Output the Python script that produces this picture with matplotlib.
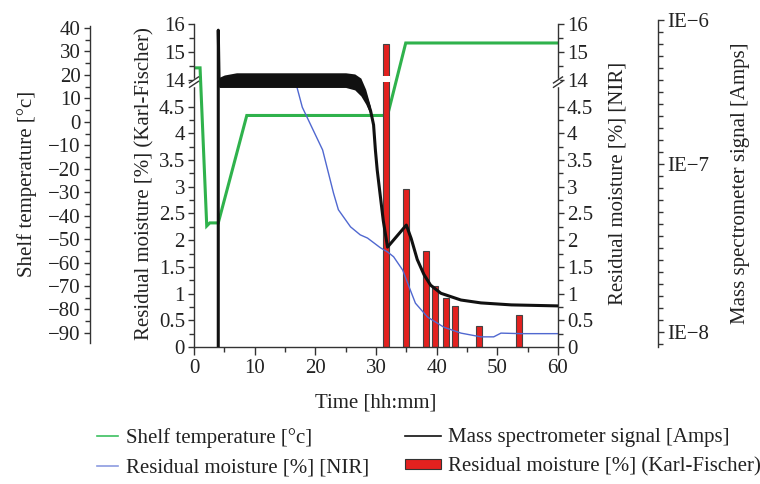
"""Freeze-drying run: shelf temperature, NIR / Karl-Fischer moisture and mass spec signal."""

import numpy as np
import matplotlib
matplotlib.use("Agg")
import matplotlib.pyplot as plt
from matplotlib.lines import Line2D
from matplotlib.patches import Patch

plt.rcParams["font.family"] = ["Liberation Serif", "DejaVu Serif"]

# --- data (time in minutes) ---
temp_time = [0, 1.0, 2.1, 2.6, 4.0, 8.7, 31.9, 34.9, 60]
temp_vals = [23.0, 23.0, -44.4, -43.1, -43.1, 2.7, 2.7, 33.6, 33.6]

nir_time = [16.9, 17.85, 21.2, 23.0, 23.8, 25.8, 27.4, 28.6, 30.7, 31.9, 32.9,
            34.4, 35.2, 36.5, 38.5, 41.2, 44.0, 47.3, 49.4, 50.6, 53.9, 60]
nir_vals = [12.0, 4.49, 3.69, 2.88, 2.57, 2.25, 2.1, 2.04, 1.86, 1.78, 1.69,
            1.44, 1.2, 0.82, 0.56, 0.37, 0.26, 0.19, 0.19, 0.26, 0.25, 0.25]

kf_time = [31.6, 35.0, 38.2, 39.7, 41.5, 43.0, 47.0, 53.5]
kf_vals = [15.3, 2.95, 1.8, 1.15, 0.92, 0.77, 0.4, 0.6]

mass_time = [4.0, 4.0, 4.15, 5.0, 10.0, 25.0, 26.5, 27.5, 28.3, 29.1, 29.6, 29.9,
             30.2, 30.7, 31.2, 31.9, 35.0, 35.8, 36.8, 37.9, 39.0, 40.7, 44.0,
             47.3, 52.3, 60.0]
mass_vals = [1e-9, 8.5e-7, 3.5e-7, 3.8e-7, 3.8e-7, 3.8e-7, 3.7e-7, 3.4e-7, 2.95e-7,
             2.35e-7, 1.87e-7, 1.25e-7, 9.2e-8, 6.5e-8, 4.6e-8, 3.2e-8, 4.33e-8,
             3.6e-8, 2.7e-8, 2.2e-8, 1.9e-8, 1.7e-8, 1.55e-8, 1.49e-8, 1.45e-8,
             1.43e-8]
# noisy plateau of the mass signal (envelope)
band_time = [4.15, 5.0, 7.0, 25.0, 26.5, 27.5, 28.3, 29.1]
band_lo = [3.4e-7, 3.4e-7, 3.4e-7, 3.4e-7, 3.27e-7, 2.97e-7, 2.61e-7, 2.2e-7]
band_hi = [4.0e-7, 4.15e-7, 4.3e-7, 4.3e-7, 4.22e-7, 3.95e-7, 3.3e-7, 2.5e-7]

moist_major = [0, 0.5, 1, 1.5, 2, 2.5, 3, 3.5, 4, 4.5, 14, 15, 16]
moist_labels = ["0", "0.5", "1", "1.5", "2", "2.5", "3", "3.5", "4", "4.5", "14", "15", "16"]
moist_minor = [0.25, 0.75, 1.25, 1.75, 2.25, 2.75, 3.25, 3.75, 4.25, 14.5, 15.5]
mass_major = [1e-8, 1e-7, 1e-6]
mass_labels = ["IE\u22128", "IE\u22127", "IE\u22126"]

GREEN = "#2fb24c"
BLUE = "#5068d0"
RED = "#e3211f"
TXT = "#222222"
SPN = "#333333"
FS = 15


def moist_fwd(y):
    """Broken moisture axis: 0-4.5 full scale, 14-16 compressed above the break."""
    y = np.asarray(y, dtype=float)
    return np.where(y <= 4.5, y,
                    np.where(y < 14, 4.5 + (y - 4.5) * 0.5 / 9.5, 5.0 + (y - 14) * 0.52))


def moist_inv(u):
    u = np.asarray(u, dtype=float)
    return np.where(u <= 4.5, u,
                    np.where(u < 5.0, 4.5 + (u - 4.5) * 9.5 / 0.5, 14 + (u - 5.0) / 0.52))


def mass_fwd(v):
    """Decades of uneven length, as on the instrument's printed axis."""
    lv = np.log10(np.maximum(np.asarray(v, dtype=float), 1e-30))
    return np.where(lv <= -7, (lv + 8) * 14, 14 + (lv + 7) * 12)


def mass_inv(u):
    u = np.asarray(u, dtype=float)
    return np.where(u <= 14, 10 ** (u / 14 - 8), 10 ** ((u - 14) / 12 - 7))


fig = plt.figure(figsize=(7.6, 4.84), dpi=100)
ax = fig.add_axes([194 / 760, 1 - 347 / 484, 364 / 760, 327 / 484])
ax_t = ax.twinx()
ax_nir = ax.twinx()
ax_m = ax.twinx()

ax_t.set_zorder(1)
ax.set_zorder(2)
ax_nir.set_zorder(3)
ax_m.set_zorder(4)
ax.patch.set_visible(False)

for a in (ax, ax_t, ax_nir, ax_m):
    for s in a.spines.values():
        s.set_visible(False)
        s.set_color(SPN)
        s.set_linewidth(1.0)
    a.tick_params(which="both", direction="out", colors=SPN, labelcolor=TXT,
                  labelsize=FS, width=1.0, pad=2.5)
    a.tick_params(which="major", length=4)
    a.tick_params(which="minor", length=3.5)

# main axis: Karl-Fischer bars, left moisture scale, time axis
ax.set_yscale("function", functions=(moist_fwd, moist_inv))
ax.set_xlim(0, 60)
ax.set_ylim(0, 16.16)
ax.bar(kf_time, kf_vals, width=1.0, color=RED, edgecolor="#444444", linewidth=0.8)
# gap in the tall bar where the axis is broken
tall = [t for t, v in zip(kf_time, kf_vals) if v > 14]
ax.bar(tall, [14.15 - 13.3] * len(tall), bottom=13.3, width=1.4, color="white", linewidth=0)
ax.spines["left"].set_visible(True)
ax.spines["left"].set_bounds(0, 16)
ax.spines["bottom"].set_visible(True)
ax.set_yticks(moist_major)
ax.set_yticklabels(moist_labels)
ax.set_yticks(moist_minor, minor=True)
ax.set_xticks(range(0, 61, 10))
ax.set_xticks(range(5, 60, 10), minor=True)
ax.tick_params(axis="x", which="major", length=6)
ax.set_xlabel("Time [hh:mm]", fontsize=FS, color=TXT, labelpad=11)
ax.set_ylabel("Residual moisture [%] (Karl-Fischer)", fontsize=FS, color=TXT, labelpad=3)

# shelf temperature on its own outer left axis
ax_t.plot(temp_time, temp_vals, color=GREEN, lw=2.2, solid_joinstyle="miter")
ax_t.set_ylim(-96.0, 43.4)
ax_t.spines["left"].set_visible(True)
ax_t.spines["left"].set_position(("outward", 75))
ax_t.spines["left"].set_bounds(-94.3, 41)
ax_t.yaxis.tick_left()
ax_t.yaxis.set_label_position("left")
ax_t.set_yticks(range(-90, 41, 10))
ax_t.set_yticks(range(-85, 40, 10), minor=True)
ax_t.set_ylabel("Shelf temperature [\u00b0c]", fontsize=FS, color=TXT, labelpad=8)

# NIR moisture, right axis with the same broken scale
ax_nir.set_yscale("function", functions=(moist_fwd, moist_inv))
ax_nir.set_ylim(0, 16.16)
ax_nir.plot(nir_time, nir_vals, color=BLUE, lw=1.0)
ax_nir.spines["right"].set_visible(True)
ax_nir.spines["right"].set_bounds(0, 16)
ax_nir.set_yticks(moist_major)
ax_nir.set_yticklabels(moist_labels)
ax_nir.set_yticks(moist_minor, minor=True)
ax_nir.set_ylabel("Residual moisture [%] [NIR]", fontsize=FS, color=TXT, labelpad=11)

# mass spectrometer signal, outer right axis
ax_m.set_yscale("function", functions=(mass_fwd, mass_inv))
ax_m.set_ylim(float(mass_inv(-1.25)), 1e-6)
ax_m.fill_between(band_time, band_lo, band_hi, color="#111111", lw=0)
ax_m.plot(mass_time, mass_vals, color="#111111", lw=2.2)
ax_m.spines["right"].set_visible(True)
ax_m.spines["right"].set_position(("outward", 72))
ax_m.set_yticks(mass_major)
ax_m.set_yticklabels(mass_labels)
ax_m.set_yticks([float(mass_inv(k)) for k in range(-1, 26) if k not in (0, 14)], minor=True)
ax_m.set_ylabel("Mass spectrometer signal [Amps]", fontsize=FS, color=TXT, labelpad=16)

# break marks on both moisture spines
w, h = 364.0, 327.0
for x0 in (0.0, 1.0):
    yc = 0.810
    ax_m.plot([x0, x0], [yc - 2.5 / h, yc + 2.5 / h], color="white", lw=2.5,
              transform=ax_m.transAxes, clip_on=False)
    for dy in (-2.2, 2.2):
        ax_m.plot([x0 - 4.5 / w, x0 + 4.5 / w],
                  [yc + (dy - 3) / h, yc + (dy + 3) / h],
                  color=SPN, lw=1.0, transform=ax_m.transAxes, clip_on=False)

leg_kw = dict(loc="upper left", frameon=False, fontsize=FS, labelcolor=TXT,
              borderaxespad=0, borderpad=0, labelspacing=0.5)
leg1 = fig.legend([Line2D([], [], color="#3cc060", lw=1.2),
                   Line2D([], [], color="#8c9be0", lw=1.2)],
                  ["Shelf temperature [\u00b0c]", "Residual moisture [%] [NIR]"],
                  bbox_to_anchor=(97 / 760, 1 - 428 / 484), handlelength=1.0,
                  handletextpad=0.4, **leg_kw)
leg2 = fig.legend([Line2D([], [], color="#111111", lw=1.2),
                   Patch(facecolor=RED, edgecolor="#333333", linewidth=0.8)],
                  ["Mass spectrometer signal [Amps]", "Residual moisture [%] (Karl-Fischer)"],
                  bbox_to_anchor=(405 / 760, 1 - 428 / 484), handlelength=1.75,
                  handleheight=0.35, handletextpad=0.3, **leg_kw)

fig.savefig("out.png", dpi=100)
